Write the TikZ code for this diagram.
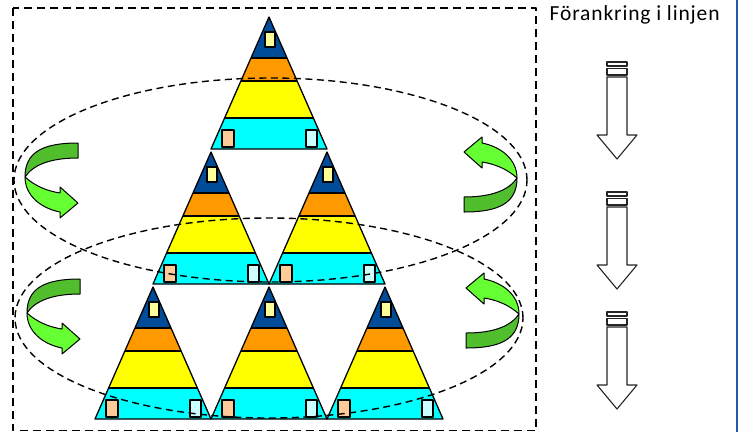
\documentclass[tikz,border=0pt]{standalone}
\usepackage{fontspec}
\setmainfont{Carlito}
\definecolor{dblue}{RGB}{0,76,153}
\definecolor{orng}{RGB}{255,153,0}
\definecolor{ylw}{RGB}{255,255,0}
\definecolor{cyn}{RGB}{0,255,255}
\definecolor{pylw}{RGB}{255,255,153}
\definecolor{peach}{RGB}{255,204,153}
\definecolor{pcyn}{RGB}{204,255,255}
\definecolor{gdark}{RGB}{80,190,45}
\definecolor{glight}{RGB}{102,255,51}
\definecolor{bline}{RGB}{30,90,180}
\begin{document}
\begin{tikzpicture}[x=1pt,y=-1pt,line join=round,
  outl/.style={draw=black,line width=1.3pt},
  smallrect/.style={draw=black,line width=1.4pt},
  ell/.style={draw=black,line width=1.4pt,dash pattern=on 7pt off 4.5pt},
  framebox/.style={draw=black,line width=1.6pt,dash pattern=on 8pt off 5pt},
  arrline/.style={draw=black!85,line width=1.1pt,fill=white},
  pics/uturn/.style={code={
    \draw[line width=1pt,fill=gdark] (0,0) .. controls (0,-25) and (18,-34) .. (53,-34) -- (53,-19) .. controls (25,-19) and (8,-12) .. (0,0) -- cycle;
    \draw[line width=1pt,fill=glight] (0,0) .. controls (10,9) and (22,14) .. (35,16) -- (35,10) -- (53,26) -- (35,41) -- (35,35) .. controls (15,31) and (0,18) .. (0,0) -- cycle;
  }},
  pics/downarrow/.style={code={
    \draw[arrline] (-10,0) rectangle (10,4);
    \draw[arrline] (-10,6.5) rectangle (10,13);
    \draw[arrline] (-10,15) -- (-10,73) -- (-20,73) -- (0,97) -- (20,73) -- (10,73) -- (10,15) -- cycle;
  }}]
\useasboundingbox (0,0) rectangle (738,432);
% triangles
\foreach \ax/\ay in {269/17, 211/152, 327/152, 153/287, 269/287, 385/287}{
  \fill[dblue] (\ax,\ay) -- (\ax-18,\ay+41) -- (\ax+18,\ay+41) -- cycle;
  \fill[orng] (\ax-18,\ay+41) -- (\ax+18,\ay+41) -- (\ax+28.1,\ay+64) -- (\ax-28.1,\ay+64) -- cycle;
  \fill[ylw] (\ax-28.1,\ay+64) -- (\ax+28.1,\ay+64) -- (\ax+44.4,\ay+101) -- (\ax-44.4,\ay+101) -- cycle;
  \fill[cyn] (\ax-44.4,\ay+101) -- (\ax+44.4,\ay+101) -- (\ax+58,\ay+132) -- (\ax-58,\ay+132) -- cycle;
  \draw[outl] (\ax-18,\ay+41) -- (\ax+18,\ay+41);
  \draw[outl] (\ax-28.1,\ay+64) -- (\ax+28.1,\ay+64);
  \draw[outl] (\ax-44.4,\ay+101) -- (\ax+44.4,\ay+101);
  \draw[outl] (\ax,\ay) -- (\ax-58,\ay+132) -- (\ax+58,\ay+132) -- cycle;
  \draw[smallrect,fill=pylw] (\ax-4,\ay+15) rectangle (\ax+6,\ay+30);
  \draw[smallrect,fill=peach] (\ax-47,\ay+113) rectangle (\ax-35,\ay+130);
  \draw[smallrect,fill=pcyn] (\ax+37,\ay+113) rectangle (\ax+48,\ay+130);
}
% ellipses
\draw[ell] (270.5,180) ellipse [x radius=256.5pt, y radius=102pt];
\draw[ell] (269,318) ellipse [x radius=254pt, y radius=100pt];
% frame
\draw[framebox] (13,8) rectangle (536,430.5);
% green u-turn arrows
\pic at (25,177) {uturn};
\pic at (27,313) {uturn};
\pic[rotate=180] at (517,178) {uturn};
\pic[rotate=180] at (519,314) {uturn};
% down arrows
\pic at (617,62) {downarrow};
\pic at (617,192) {downarrow};
\pic at (617,312) {downarrow};
% title
\node[anchor=base west,inner sep=0pt,font=\fontsize{21.5}{25}\selectfont\addfontfeatures{LetterSpace=4}] (title) at (549.5,20.7) {Förankring i linjen};
% right blue line
\draw[bline,line width=2pt] (737,0) -- (737,432);
\end{tikzpicture}
\end{document}
